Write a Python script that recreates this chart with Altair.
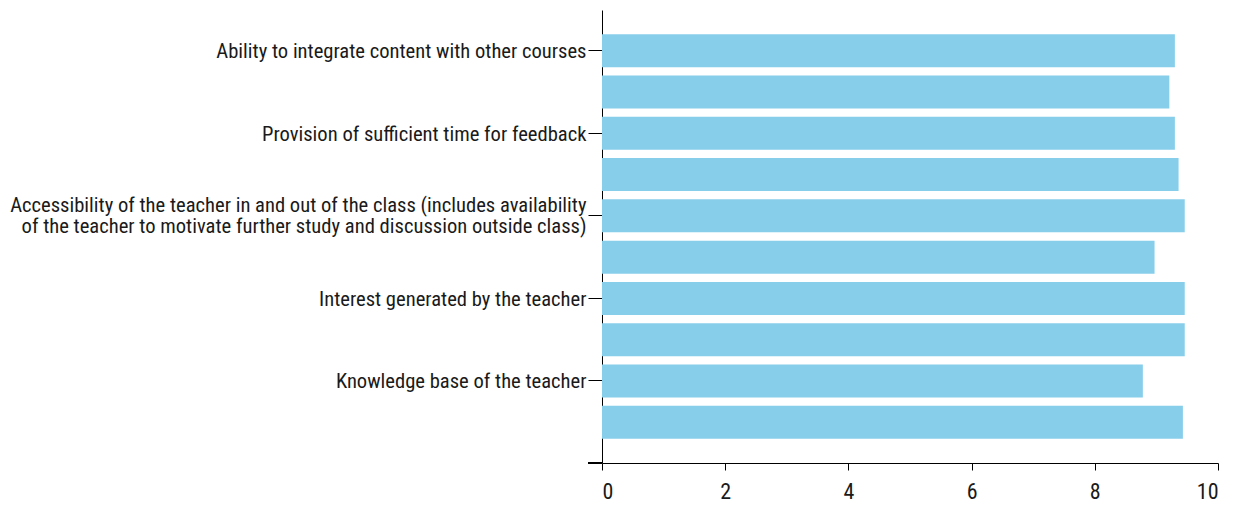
import altair as alt
import pandas as pd

categories = [
    "Ability to integrate content with other courses",
    "(unlabelled 2)",
    "Provision of sufficient time for feedback",
    "(unlabelled 4)",
    "Accessibility of the teacher in and out of the class (includes availability|of the teacher to motivate further study and discussion outside class)",
    "(unlabelled 6)",
    "Interest generated by the teacher",
    "(unlabelled 8)",
    "Knowledge base of the teacher",
    "(unlabelled 10)",
]
values = [9.30, 9.21, 9.30, 9.36, 9.46, 8.97, 9.46, 9.46, 8.78, 9.43]
shown_labels = [categories[i] for i in (0, 2, 4, 6, 8)]
x_ticks = [0, 2, 4, 6, 8, 10]

df = pd.DataFrame({"cat": categories, "val": values})

FONT = "Liberation Sans Narrow, Roboto Condensed, DejaVu Sans Condensed, Liberation Sans"
PLOT_W = 616
PLOT_H = 453

bars = alt.Chart(df).mark_bar(color="#87CEEB").encode(
    y=alt.Y(
        "cat:N",
        sort=categories,
        title=None,
        scale=alt.Scale(paddingInner=0.2, paddingOuter=0.59),
        axis=alt.Axis(
            values=shown_labels,
            labelExpr="split(datum.label, '|')",
            labelFont=FONT,
            labelFontSize=20.6,
            labelColor="#1a1a1a",
            labelLimit=800,
            labelAlign="right",
            labelLineHeight=21,
            labelOffset={
                "condition": {"test": "indexof(datum.value, '|') >= 0", "value": -9.5},
                "value": 1.5,
            },
            tickSize=14,
            tickColor="#000000",
            domainColor="#000000",
            labelPadding=2,
            grid=False,
        ),
    ),
    x=alt.X(
        "val:Q",
        title=None,
        scale=alt.Scale(domain=[0, 10], nice=False),
        axis=alt.Axis(
            values=x_ticks,
            labelFont=FONT,
            labelFontSize=22,
            labelColor="#1a1a1a",
            tickSize=7,
            tickColor="#000000",
            domainColor="#000000",
            labelPadding=11,
            grid=False,
        ),
    ),
)

corner = alt.Chart(df).mark_rule(color="#000000", strokeWidth=1).encode(
    x=alt.value(-14), x2=alt.value(0), y=alt.value(PLOT_H)
)

chart = alt.layer(bars, corner).properties(
    width=PLOT_W,
    height=PLOT_H,
    background="white",
    autosize=alt.AutoSizeParams(type="none"),
    padding={"left": 594, "top": 2, "right": 16, "bottom": 40},
).configure_view(stroke=None)

chart.save("out.html", embed_options={"renderer": "svg", "actions": False})
